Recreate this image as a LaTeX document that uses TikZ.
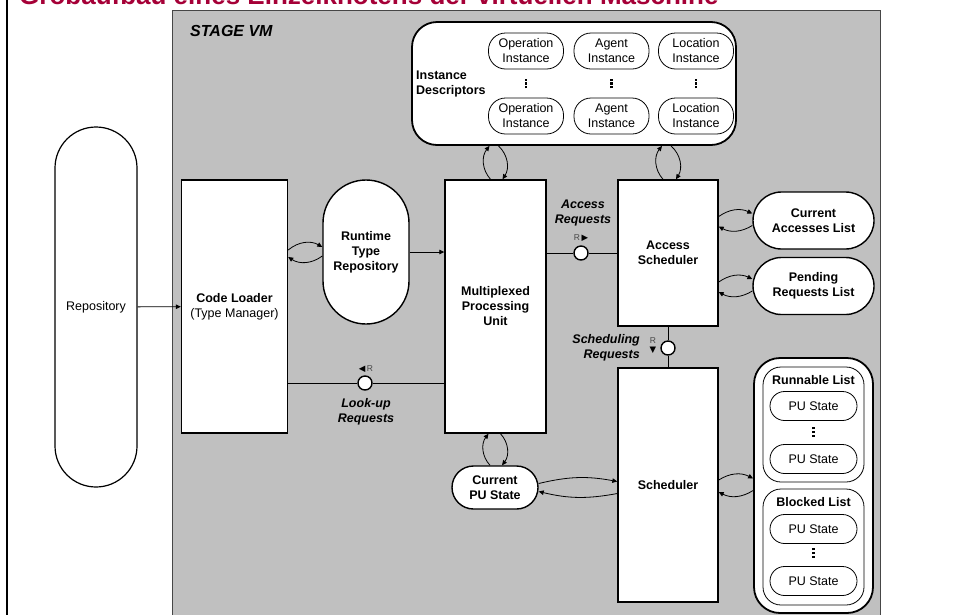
\documentclass[tikz,border=0pt]{standalone}
\usepackage{fontspec}
\setmainfont{Liberation Sans}
\newfontfamily\symfont{DejaVu Sans}
\usetikzlibrary{arrows.meta}
\definecolor{titel}{RGB}{165,0,55}
\definecolor{vmgrau}{RGB}{192,192,192}
\definecolor{rand}{RGB}{70,70,70}
\newcommand{\punkte}{\vbox{\offinterlineskip\hbox{\rule{2.2pt}{2.2pt}}\vskip1.6pt
  \hbox{\rule{2.2pt}{2.2pt}}\vskip1.6pt\hbox{\rule{2.2pt}{2.2pt}}}}

\begin{document}
\begin{tikzpicture}[x=1pt,y=-1pt,
    every node/.style={font=\fontsize{12.5}{15}\selectfont, align=center, inner sep=0pt},
    fett/.style={font=\fontsize{12.5}{15}\selectfont\bfseries},
    req/.style={font=\fontsize{12.5}{15}\selectfont\bfseries\itshape},
    box/.style={draw, fill=white, line width=1.4pt},
    pill/.style={box, rounded corners=#1},
    oval/.style={draw, fill=white, line width=0.8pt, rounded corners=#1},
    port/.style={circle, draw, fill=white, line width=1.4pt, minimum size=14pt},
    tag/.style={font=\fontsize{8.5}{9}\selectfont, text=rand},
    pfeil/.style={-{Triangle[length=5pt,width=4.5pt]}, line width=0.8pt},
    hinher/.style={pfeil, bend left=#1}]
  \clip (0,0) rectangle (957,614);
  %rahmen
  \draw[line width=2pt] (7,-5) -- (7,620);
  \node[anchor=base west, text=titel, font=\fontsize{26}{30}\selectfont\bfseries] (titel) at (19,4)
    {Grobaufbau eines Einzelknotens der virtuellen Maschine};
  \filldraw[fill=vmgrau, draw=rand, line width=0.8pt] (172,10) rectangle (880,640);
  \node[anchor=base west, font=\fontsize{16}{18}\selectfont\bfseries\itshape] (vm) at (190,36) {STAGE VM};

  %instance descriptors
  \node[pill=25pt, line width=1.8pt, minimum width=324pt, minimum height=123pt] (id) at (574,83.5) {};
  \node[fett, anchor=west, align=left] (idtxt) at (416,83.5) {Instance\\Descriptors};
  \foreach \n/\t/\x in {op/Operation/526, ag/Agent/611.5, lo/Location/696}{
    \node[oval=17pt, minimum width=75pt, minimum height=36pt] (\n1) at (\x,51) {\t\\Instance};
    \node (\n d) at (\x,83.5) {\punkte};
    \node[oval=17pt, minimum width=75pt, minimum height=36pt] (\n2) at (\x,116) {\t\\Instance};
  }

  %bloecke
  \node[pill=41pt, line width=1.2pt, minimum width=82pt, minimum height=360pt] (repo) at (96,307) {Repository};
  \node[box, minimum width=106pt, minimum height=253pt] (cl) at (234.5,306.5) {\textbf{Code Loader}\\(Type Manager)};
  \node[pill=43pt, fett, minimum width=86pt, minimum height=144pt] (rtr) at (366,252) {Runtime\\Type\\Repository};
  \node[box, fett, minimum width=101pt, minimum height=253pt] (mpu) at (495.5,306.5) {Multiplexed\\Processing\\Unit};
  \node[box, fett, minimum width=100pt, minimum height=146pt] (as) at (668,253) {Access\\Scheduler};
  \node[box, fett, minimum width=100pt, minimum height=234pt] (sch) at (668,485) {Scheduler};
  \node[pill=21.5pt, fett, minimum width=86pt, minimum height=43pt] (cpu) at (495,487.5) {Current\\PU State};
  \node[pill=28.5pt, fett, minimum width=121pt, minimum height=57pt] (cal) at (813.5,220.5) {Current\\Accesses List};
  \node[pill=28.5pt, fett, minimum width=121pt, minimum height=57pt] (prl) at (813.5,286) {Pending\\Requests List};

  %listen
  \node[pill=26pt, line width=1.8pt, minimum width=119pt, minimum height=255pt] (sl) at (813.5,485.5) {};
  \node[oval=18pt, minimum width=101pt, minimum height=115pt] (rl) at (813.5,424.5) {};
  \node[oval=18pt, minimum width=101pt, minimum height=116pt] (bl) at (813.5,547) {};
  \node[fett] (rlt) at (813.5,380) {Runnable List};
  \node[oval=14.5pt, minimum width=87pt, minimum height=29pt] (rl1) at (813.5,406) {PU State};
  \node (rld) at (813.5,432) {\punkte};
  \node[oval=14.5pt, minimum width=87pt, minimum height=29pt] (rl2) at (813.5,459) {PU State};
  \node[fett] (blt) at (813.5,502) {Blocked List};
  \node[oval=14.5pt, minimum width=87pt, minimum height=29pt] (bl1) at (813.5,529) {PU State};
  \node (bld) at (813.5,553) {\punkte};
  \node[oval=14.5pt, minimum width=87pt, minimum height=29pt] (bl2) at (813.5,581) {PU State};

  %anfragen
  \node[port] (lk) at (365,383) {};
  \draw[line width=0.8pt] (lk) -- (lk -| cl.east);
  \draw[line width=0.8pt] (lk) -- (lk -| mpu.west);
  \node[tag] (lkt) at ([xshift=1pt,yshift=14pt]lk) {{\symfont\color{black}◀}\,R};
  \node[req] (lkr) at (366,412) {Look-up\\Requests};

  \node[port] (ac) at (581,253) {};
  \draw[line width=0.8pt] (ac) -- (ac -| mpu.east);
  \draw[line width=0.8pt] (ac) -- (ac -| as.west);
  \node[tag] (act) at ([yshift=15pt]ac) {R\,{\symfont\color{black}▶}};
  \node[req] (acr) at (583,212.5) {Access\\Requests};

  \node[port] (sc) at (668,348) {};
  \draw[line width=0.8pt] (sc) -- (as);
  \draw[line width=0.8pt] (sc) -- (sch);
  \node[tag] (sct) at ([xshift=-15pt,yshift=2pt]sc) {R\\{\symfont\color{black}▼}};
  \node[req, anchor=east, align=right] (scr) at (640,347.5) {Scheduling\\Requests};

  %pfeile
  \draw[pfeil] (repo) -- (cl);
  \draw[pfeil] (rtr) -- (rtr -| mpu.west);
  \coordinate (clr) at (cl.east |- rtr.west);
  \draw[hinher=35] ([yshift=2pt]clr) to ([yshift=5pt]rtr.west);
  \draw[hinher=35] ([yshift=-4pt]rtr.west) to ([yshift=-5pt]clr);
  \coordinate (idm) at (mpu.north |- id.south);
  \draw[hinher=40] ([xshift=-5pt]mpu.north) to ([xshift=-6pt]idm);
  \draw[hinher=40] ([xshift=3pt]idm) to ([xshift=7pt]mpu.north);
  \coordinate (ida) at (as.north |- id.south);
  \draw[hinher=40] ([xshift=-5pt]as.north) to ([xshift=-6pt]ida);
  \draw[hinher=40] ([xshift=3pt]ida) to ([xshift=8pt]as.north);
  \draw[hinher=40] ([xshift=-5pt]cpu.north) to ([xshift=-7pt]mpu.south);
  \draw[hinher=40] ([xshift=5pt]mpu.south) to ([xshift=7pt]cpu.north);
  \coordinate (cs) at (sch.west |- cpu.east);
  \draw[hinher=12] ([yshift=4pt]cpu.east) to ([yshift=6pt]cs);
  \draw[hinher=12] ([yshift=-6pt]cs) to ([yshift=-4pt]cpu.east);
  \foreach \l in {cal, prl}{
    \coordinate (a\l) at (as.east |- \l.west);
    \draw[hinher=30] ([yshift=4pt]a\l) to ([yshift=7pt]\l.west);
    \draw[hinher=30] ([yshift=-5pt]\l.west) to ([yshift=-6pt]a\l);
  }
  \draw[hinher=30] ([yshift=5pt]sch.east) to ([yshift=7pt]sl.west);
  \draw[hinher=30] ([yshift=-5pt]sl.west) to ([yshift=-7pt]sch.east);
\end{tikzpicture}
\end{document}
